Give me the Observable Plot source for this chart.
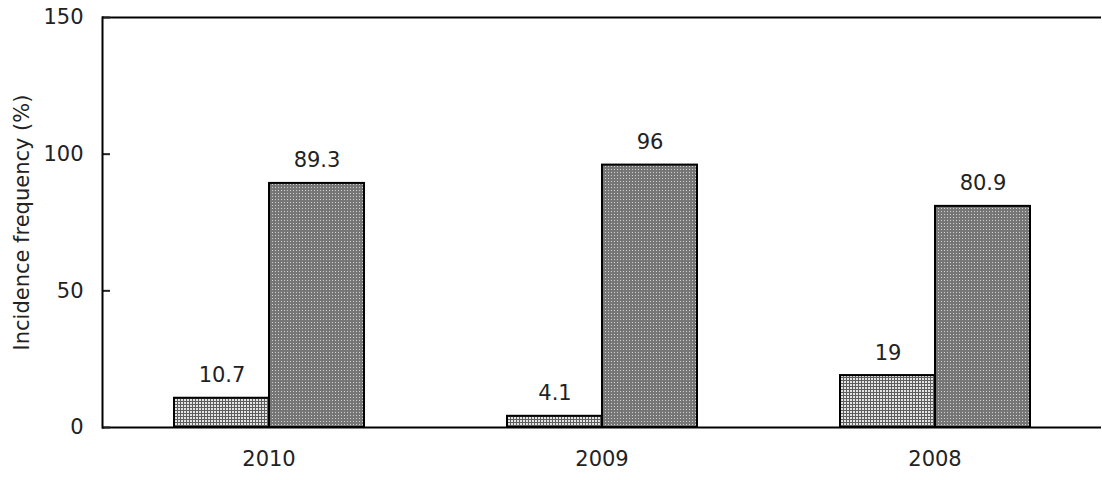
<!DOCTYPE html>
<html>
<head>
<meta charset="utf-8">
<script src="https://cdn.jsdelivr.net/npm/d3@7"></script>
<script src="https://cdn.jsdelivr.net/npm/@observablehq/plot@0.6"></script>
<style>
  html, body { margin: 0; padding: 0; background: #fff; overflow: hidden; }
  #chart { width: 1102px; height: 480px; }
</style>
</head>
<body>
<svg width="0" height="0" style="position:absolute">
  <defs>
    <pattern id="pLight" width="3" height="3" patternUnits="userSpaceOnUse">
      <rect width="3" height="3" fill="#5e5e5e"></rect>
      <rect width="2" height="2" fill="#e4e4e4"></rect>
    </pattern>
    <pattern id="pDark" width="3" height="3" patternUnits="userSpaceOnUse">
      <rect width="3" height="3" fill="#767676"></rect>
      <rect x="1" y="1" width="1" height="1" fill="#d0d0d0"></rect>
    </pattern>
  </defs>
</svg>
<div id="chart"></div>
<script>
const years = ["2010", "2009", "2008"];
const seriesNames = ["Series 1", "Series 2"];
const series1 = [10.7, 4.1, 19];
const series2 = [89.3, 96, 80.9];
const yTicks = [0, 50, 100, 150];

const data = years.flatMap((y, i) => [
  {year: y, series: seriesNames[0], value: series1[i]},
  {year: y, series: seriesNames[1], value: series2[i]}
]);

const chart = Plot.plot({
  width: 1102,
  height: 480,
  marginLeft: 101,
  marginRight: 0,
  marginTop: 17,
  marginBottom: 53,
  style: {fontFamily: "'DejaVu Sans', sans-serif", fontSize: "21px", color: "#222", background: "transparent"},
  fx: {domain: years, padding: 0, label: null},
  x: {domain: seriesNames, paddingInner: 0, paddingOuter: 0.74, axis: null},
  y: {domain: [0, 150]},
  color: {domain: seriesNames, range: ["url(#pLight)", "url(#pDark)"]},
  marks: [
    Plot.barY(data, {fx: "year", x: "series", y: "value", fill: "series", stroke: "#000", strokeWidth: 2}),
    Plot.text(data, {fx: "year", x: "series", y: "value", text: d => String(d.value), lineAnchor: "bottom", dy: -16, fontSize: 21, fill: "#222"}),
    Plot.ruleY([0, 150], {stroke: "#000", strokeWidth: 2}),
    Plot.axisY({ticks: yTicks, tickSize: -8, tickPadding: 27, strokeWidth: 2, label: "Incidence frequency (%)", labelAnchor: "center", labelOffset: 88, labelArrow: "none", fontSize: 21}),
    Plot.axisFx({anchor: "bottom", tickSize: 0, tickPadding: 24, label: null, fontSize: 21}),
    Plot.frame({anchor: "left", facetAnchor: "left", stroke: "#000", strokeWidth: 2})
  ]
});
document.getElementById("chart").appendChild(chart);
</script>
</body>
</html>
